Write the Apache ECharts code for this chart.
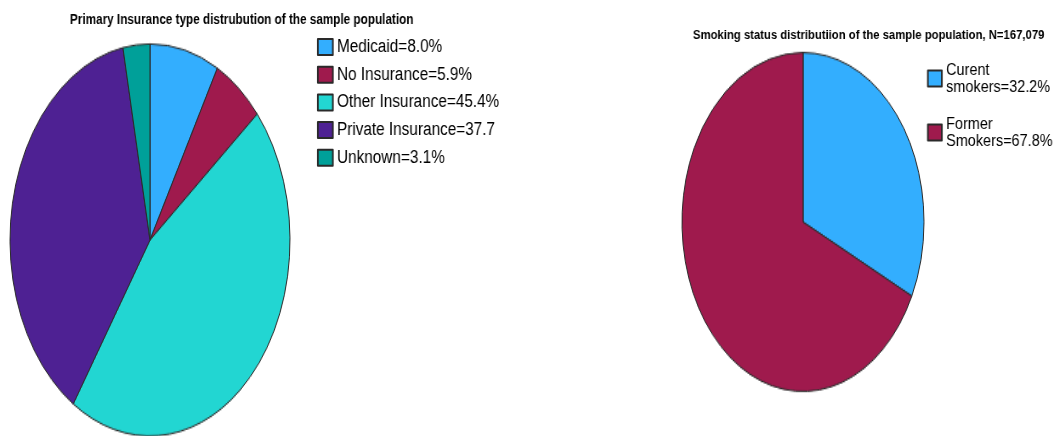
<!DOCTYPE html>
<html>
<head>
<meta charset="utf-8">
<script src="https://cdn.jsdelivr.net/npm/echarts@6/dist/echarts.min.js"></script>
<style>
  html, body { margin: 0; padding: 0; background: #ffffff; overflow: hidden; }
  #wrap { position: relative; width: 1057px; height: 436px; overflow: hidden; }
  /* text layer: horizontally condensed to mimic a narrow typeface */
  #base { position: absolute; left: 0; top: 0; width: 1244px; height: 436px;
          transform: scaleX(0.85); transform-origin: 0 0; }
  /* pie layer: vertically stretched so the pies become ellipses */
  #pies { position: absolute; left: 0; top: 0; width: 1057px; height: 320px;
          transform: scaleY(1.4); transform-origin: 0 0; }
</style>
</head>
<body>
<div id="wrap">
  <div id="base"></div>
  <div id="pies"></div>
</div>
<script>
// ---- data ----
const insuranceCategories = ['Medicaid', 'No Insurance', 'Other Insurance', 'Private Insurance', 'Unknown'];
const insuranceValues = [8.0, 5.9, 45.4, 37.7, 3.1];
const insuranceLegendLabels = ['Medicaid=8.0%', 'No Insurance=5.9%', 'Other Insurance=45.4%', 'Private Insurance=37.7', 'Unknown=3.1%'];
const insuranceColors = ['#33aefe', '#9f1a4d', '#22d6d2', '#4e2193', '#00a099'];

const smokingCategories = ['Curent smokers', 'Former Smokers'];
const smokingValues = [32.2, 67.8];
const smokingLegendLabels = ['Curent\nsmokers=32.2%', 'Former\nSmokers=67.8%'];
const smokingColors = ['#33aefe', '#9f1a4d'];

const insuranceTitle = 'Primary Insurance type distrubution of the sample population';
const smokingTitle = 'Smoking status distributiion of the sample population, N=167,079';

// ---- helpers ----
const SCALE_Y = 1.4;   // pie layer vertical stretch
const SX = 0.85;       // text layer horizontal condense
const FONT = "'Liberation Sans', Arial, sans-serif";
const toData = (cats, vals, cols) => cats.map((c, i) => ({ name: c, value: vals[i], itemStyle: { color: cols[i] } }));
const labelMap = {};
insuranceCategories.forEach((c, i) => { labelMap[c] = insuranceLegendLabels[i]; });
smokingCategories.forEach((c, i) => { labelMap[c] = smokingLegendLabels[i]; });
const bx = x => x / SX;   // page x -> text-layer x

const pieCommon = {
  type: 'pie',
  startAngle: 90,
  clockwise: true,
  silent: true,
  animation: false,
  label: { show: false },
  labelLine: { show: false },
  emphasis: { disabled: true },
  itemStyle: { borderColor: '#2a2a2a', borderWidth: 1 }
};

// ---- text layer: titles + legends (zero-radius pies only feed the legends) ----
const base = echarts.init(document.getElementById('base'), null, { renderer: 'canvas' });
base.setOption({
  animation: false,
  title: [
    { text: insuranceTitle, left: bx(70), top: 13.5, padding: 0,
      textStyle: { fontFamily: FONT, fontSize: 13.8, fontWeight: 'bold', color: '#000' } },
    { text: smokingTitle, left: bx(693), top: 29, padding: 0,
      textStyle: { fontFamily: FONT, fontSize: 13.3, fontWeight: 'bold', color: '#000' } }
  ],
  legend: [
    { data: insuranceCategories, orient: 'vertical', left: bx(317), top: 38, padding: 0,
      itemWidth: 15 / SX, itemHeight: 16, itemGap: 9.7, icon: 'rect', selectedMode: false,
      formatter: n => labelMap[n],
      textStyle: { fontFamily: FONT, fontSize: 18, color: '#000', lineHeight: 18 } },
    { data: smokingCategories, orient: 'vertical', left: bx(927), top: 61.5, padding: 0,
      itemWidth: 14 / SX, itemHeight: 16, itemGap: 20, icon: 'rect', selectedMode: false,
      formatter: n => labelMap[n],
      textStyle: { fontFamily: FONT, fontSize: 17, color: '#000', lineHeight: 17 } }
  ],
  series: [
    Object.assign({}, pieCommon, { name: 'insurance', center: [bx(150), 240], radius: [0, 0],
      data: toData(insuranceCategories, insuranceValues, insuranceColors) }),
    Object.assign({}, pieCommon, { name: 'smoking', center: [bx(803), 222], radius: [0, 0],
      data: toData(smokingCategories, smokingValues, smokingColors) })
  ]
});

// ---- pie layer (stretched vertically to ellipses) ----
const pies = echarts.init(document.getElementById('pies'), null, { renderer: 'canvas' });
pies.setOption({
  animation: false,
  series: [
    Object.assign({}, pieCommon, { name: 'insurance', center: [150, 240 / SCALE_Y], radius: 140,
      data: toData(insuranceCategories, insuranceValues, insuranceColors) }),
    Object.assign({}, pieCommon, { name: 'smoking', center: [803, 222 / SCALE_Y], radius: 121,
      data: toData(smokingCategories, smokingValues, smokingColors) })
  ]
});
</script>
</body>
</html>
